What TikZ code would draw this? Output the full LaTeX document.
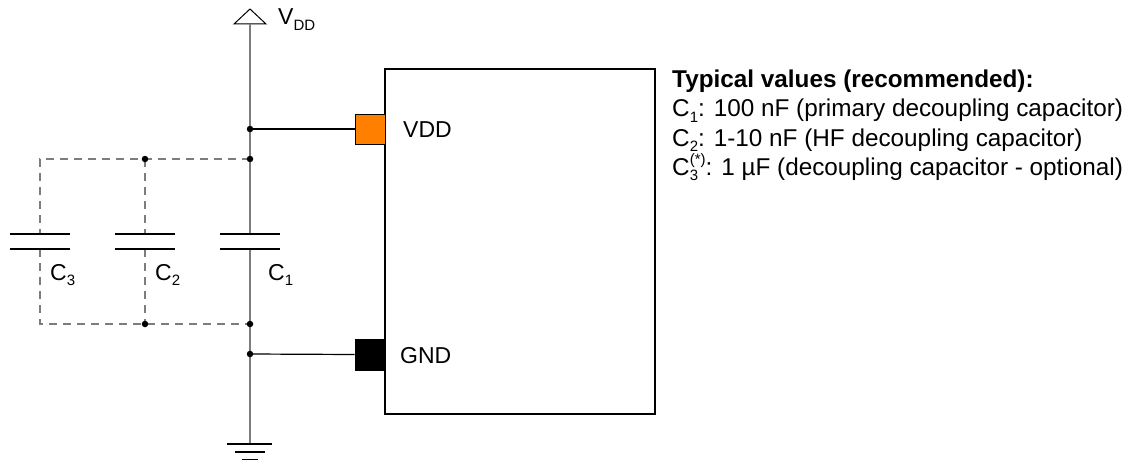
\documentclass[tikz,border=0pt]{standalone}
\usepackage{fontspec}
\setmainfont{Liberation Sans}
\definecolor{railgray}{RGB}{125,125,125}
\definecolor{padorange}{RGB}{255,128,0}
\newcommand\sbx[1]{\raisebox{-0.24em}{\fontsize{15}{15}\selectfont #1}}
\newcommand\sbsp[2]{\rlap{\raisebox{-0.24em}{\fontsize{15}{15}\selectfont #1}}\raisebox{0.42em}{\fontsize{15}{15}\selectfont #2}}
\begin{document}
\begin{tikzpicture}[x=1pt,y=-1pt,
  wire/.style={line width=1.2pt, draw=black},
  rail/.style={line width=1.8pt, draw=railgray},
  dsh/.style={line width=1.2pt, draw=railgray, dash pattern=on 8pt off 6pt},
  plate/.style={line width=1.4pt, draw=black},
  dot/.style={circle, fill=black, inner sep=0pt, minimum size=6.5pt},
  lbl/.style={inner sep=0pt, anchor=base west, font=\fontsize{23}{27.5}\selectfont},
  note/.style={inner sep=0pt, anchor=base west, font=\fontsize{24.3}{28}\selectfont},
  pad/.style={draw=black, line width=1pt, minimum width=30pt, minimum height=30pt, inner sep=0pt},
  icbox/.style={draw=black, line width=1.3pt, minimum width=270pt, minimum height=345pt, inner sep=0pt}
]
\useasboundingbox (0,0) rectangle (1130,460);

% IC box and pads
\node[icbox] (ic) at (520,241.5) {};
\node[pad, fill=padorange] (vddpad) at (370,129) {};
\node[pad, fill=black, minimum height=31pt] (gndpad) at (370,354.5) {};

% VDD supply symbol
\coordinate (vtop) at (250,24);
\draw[line width=1pt, fill=white] (234,24) -- (250,9) -- (266,24) -- cycle;

% coordinates
\coordinate (j1) at (250,129);
\coordinate (j2) at (250,159);
\coordinate (j3) at (145,159);
\coordinate (j4) at (40,159);
\coordinate (k2) at (250,324);
\coordinate (k3) at (145,324);
\coordinate (k4) at (40,324);
\coordinate (j5) at (250,354);
\coordinate (gtop) at (250,444);

% capacitor plate centres
\coordinate (c1t) at (250,234); \coordinate (c1b) at (250,249);
\coordinate (c2t) at (145,234); \coordinate (c2b) at (145,249);
\coordinate (c3t) at (40,234);  \coordinate (c3b) at (40,249);

% dashed optional capacitor wiring
\draw[dsh] (j2) -- (j3) -- (j4) -- (c3t);
\draw[dsh] (j3) -- (c2t);
\draw[dsh] (c3b) -- (k4) -- (k3) -- (k2);
\draw[dsh] (c2b) -- (k3);

% main rail
\draw[rail] (vtop) -- (c1t);
\draw[rail] (c1b) -- (gtop);

% wires to pads
\draw[wire] (j1) -- (vddpad.west);
\draw[wire] (j5) -- (gndpad.west);

% capacitor plates
\foreach \c in {c1,c2,c3}{
  \draw[plate] ([xshift=-30pt]\c t) -- ([xshift=30pt]\c t);
  \draw[plate] ([xshift=-30pt]\c b) -- ([xshift=30pt]\c b);
}

% ground symbol
\draw[line width=1.4pt] (227,444) -- (272,444);
\draw[line width=1.4pt] (235,452) -- (265,452);
\draw[line width=1.4pt] (242,459.5) -- (258,459.5);

% junction dots
\foreach \p in {j1,j2,j3,k2,k3,j5} \node[dot] at (\p) {};

% labels
\node[lbl] (vddlbl) at (278,25) {V\sbx{DD}};
\node[lbl] (vddtxt) at (403,137.5) {VDD};
\node[lbl] (gndtxt) at (400,363) {GND};
\node[lbl] (lc3) at (50,280) {C\sbx{3}};
\node[lbl] (lc2) at (155,280) {C\sbx{2}};
\node[lbl] (lc1) at (268,280) {C\sbx{1}};

% note
\node[note, font=\fontsize{24.3}{28}\selectfont\bfseries] (n1) at (672,88) {Typical values (recommended):};
\node[note] (n2) at (672,117) {C\sbx{1}: 100 nF (primary decoupling capacitor)};
\node[note] (n3) at (672,146) {C\sbx{2}: 1-10 nF (HF decoupling capacitor)};
\node[note] (n4) at (672,175) {C\sbsp{3}{(*)}: 1 µF (decoupling capacitor - optional)};
\end{tikzpicture}
\end{document}
